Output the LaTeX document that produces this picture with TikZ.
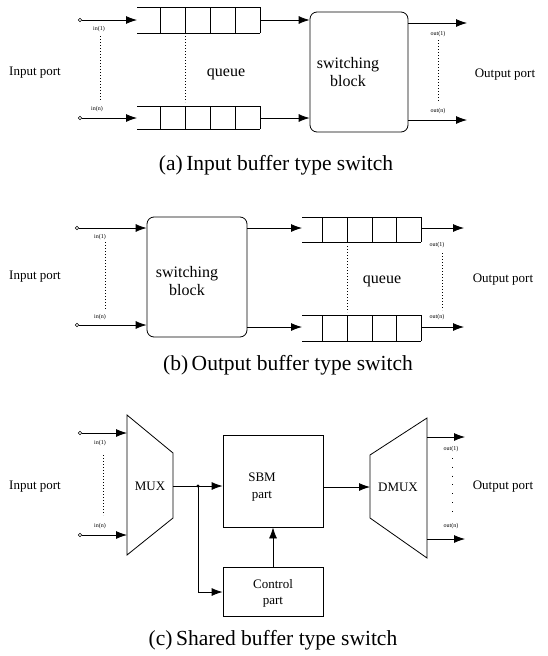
\documentclass[tikz,border=0pt]{standalone}
\usepackage{fontspec}
\setmainfont{Liberation Serif}
\usetikzlibrary{arrows.meta,calc}
\begin{document}
\begin{tikzpicture}[x=1pt,y=-1pt,
 ln/.style={line width=0.8pt},
 arr/.style={ln,-{Latex[length=11pt,width=8pt]}},
 port/.style={circle,draw,line width=0.6pt,inner sep=0pt,minimum size=3.5pt,fill=white},
 tiny/.style={font=\fontsize{6}{6}\selectfont,inner sep=0pt},
 lbl/.style={font=\fontsize{13}{13}\selectfont,inner sep=0pt},
 mid/.style={font=\fontsize{16}{16}\selectfont,inner sep=0pt},
 captext/.style={font=\fontsize{21.5}{21.5}\selectfont,inner sep=0pt,anchor=base},
 dots/.style={line width=0.5pt,dash pattern=on 0.8pt off 2.2pt},
 sblock/.style={draw,ln,rounded corners=7pt,inner sep=0pt},
 box/.style={draw,ln,inner sep=0pt},
]
\useasboundingbox (0,0) rectangle (548,656);
%%%%%%%%%%%%%%%% (a)
\node[lbl] (ipa) at (35,73) {Input port};
\node[port] (ia1) at (80,20) {};
\node[port] (ian) at (80,118) {};
\coordinate (qa1l) at (137,20);
\coordinate (qanl) at (137,118);
\coordinate (qa1r) at (260,20);
\coordinate (qanr) at (260,118);
\draw[arr] (ia1) -- (qa1l);
\draw[arr] (ian) -- (qanl);
\node[tiny] (lia1) at (99,29) {in(1)};
\node[tiny] (lian) at (97,109) {in(n)};
\draw[dots] (100,36) -- (100,100);
\draw[ln] (137,7) -- (260,7) (137,33) -- (260,33);
\foreach \qx in {160,185,210,235,260}{\draw[ln] (\qx,7) -- (\qx,33);}
\draw[ln] (137,106) -- (260,106) (137,129) -- (260,129);
\foreach \qx in {160,185,210,235,260}{\draw[ln] (\qx,106) -- (\qx,129);}
\draw[dots] (185,36) -- (185,102);
\node[mid] (qa) at (226,74) {queue};
\node[sblock,minimum width=98pt,minimum height=120pt] (swa) at (359,72) {};
\node[mid,align=center] (swat) at (348,72) {switching\\[2pt]block};
\draw[arr] (qa1r) -- (qa1r -| swa.west);
\draw[arr] (qanr) -- (qanr -| swa.west);
\coordinate (oa1) at (467,23);
\coordinate (oan) at (467,120);
\draw[arr] (oa1 -| swa.east) -- (oa1);
\draw[arr] (oan -| swa.east) -- (oan);
\node[tiny] (loa1) at (438,34) {out(1)};
\node[tiny] (loan) at (438,111) {out(n)};
\draw[dots] (438,40) -- (438,102);
\node[lbl] (opa) at (505,75) {Output port};
\node[captext] (capa) at (276,170) {(a)\,Input buffer type switch};
%%%%%%%%%%%%%%%% (b)
\node[lbl] (ipb) at (35,277) {Input port};
\node[port] (ib1) at (77,228) {};
\node[port] (ibn) at (77,325) {};
\node[sblock,minimum width=100pt,minimum height=120pt] (swb) at (197,277) {};
\node[mid,align=center] (swbt) at (187,281) {switching\\[2pt]block};
\draw[arr] (ib1) -- (ib1 -| swb.west);
\draw[arr] (ibn) -- (ibn -| swb.west);
\node[tiny] (lib1) at (100,237) {in(1)};
\node[tiny] (libn) at (100,317) {in(n)};
\draw[dots] (105,242) -- (105,310);
\coordinate (qb1l) at (302,228);
\coordinate (qbnl) at (302,327);
\draw[arr] (qb1l -| swb.east) -- (qb1l);
\draw[arr] (qbnl -| swb.east) -- (qbnl);
\draw[ln] (302,217) -- (421,217) (302,242) -- (421,242);
\foreach \qx in {322,347,372,396,421}{\draw[ln] (\qx,217) -- (\qx,242);}
\draw[ln] (302,315) -- (421,315) (302,341) -- (421,341);
\foreach \qx in {322,347,372,396,421}{\draw[ln] (\qx,315) -- (\qx,341);}
\draw[dots] (347,246) -- (347,312);
\node[mid] (qb) at (382,281) {queue};
\coordinate (qb1r) at (421,228);
\coordinate (qbnr) at (421,327);
\draw[arr] (qb1r) -- (464,228);
\draw[arr] (qbnr) -- (464,327);
\node[tiny] (lob1) at (437,245) {out(1)};
\node[tiny] (lobn) at (437,317) {out(n)};
\draw[dots] (442,253) -- (442,310);
\node[lbl] (opb) at (503,280) {Output port};
\node[captext] (capb) at (288,370) {(b)\,Output buffer type switch};
%%%%%%%%%%%%%%%% (c)
\node[lbl] (ipc) at (35,487) {Input port};
\node[port] (ic1) at (80,433) {};
\node[port] (icn) at (80,535) {};
\coordinate (m1) at (127,415);
\coordinate (m2) at (173,453);
\coordinate (m3) at (173,518);
\coordinate (m4) at (127,555);
\draw[ln] (m1) -- (m2) -- (m3) -- (m4) -- cycle;
\node[lbl] (mux) at (150,486) {MUX};
\draw[arr] (ic1) -- (ic1 -| m1);
\draw[arr] (icn) -- (icn -| m1);
\node[tiny] (lic1) at (100,443) {in(1)};
\node[tiny] (licn) at (100,526) {in(n)};
\draw[dots] (103,455) -- (103,515);
\node[box,minimum width=100pt,minimum height=92pt] (sbm) at (273,481) {};
\node[lbl,align=center] (sbmt) at (262,487) {SBM\\[4pt]part};
\node[box,minimum width=100pt,minimum height=49pt] (ctl) at (273,592) {};
\node[lbl,align=center] (ctlt) at (273,593) {Control\\[3pt]part};
\coordinate (mo) at (173,486);
\coordinate (jn) at (198,486);
\draw[arr] (mo) -- (mo -| sbm.west);
\fill (jn) circle (1.6pt);
\draw[arr] (jn) |- (ctl.west);
\draw[arr] (ctl.north) -- (sbm.south);
\coordinate (d1) at (370,455);
\coordinate (d2) at (427,418);
\coordinate (d3) at (427,558);
\coordinate (d4) at (370,518);
\draw[ln] (d1) -- (d2) -- (d3) -- (d4) -- cycle;
\node[lbl] (dmux) at (398,487) {DMUX};
\coordinate (so) at (323,487);
\draw[arr] (so) -- (so -| d1);
\coordinate (oc1) at (465,437);
\coordinate (ocn) at (465,539);
\draw[arr] (oc1 -| d2) -- (oc1);
\draw[arr] (ocn -| d2) -- (ocn);
\node[tiny] (loc1) at (451,449) {out(1)};
\node[tiny] (locn) at (451,526) {out(n)};
\draw[line width=0.5pt,dash pattern=on 0.8pt off 8pt] (452,458) -- (452,515);
\node[lbl] (opc) at (503,487) {Output port};
\node[captext] (capc) at (273,645) {(c)\,Shared buffer type switch};
\end{tikzpicture}
\end{document}
